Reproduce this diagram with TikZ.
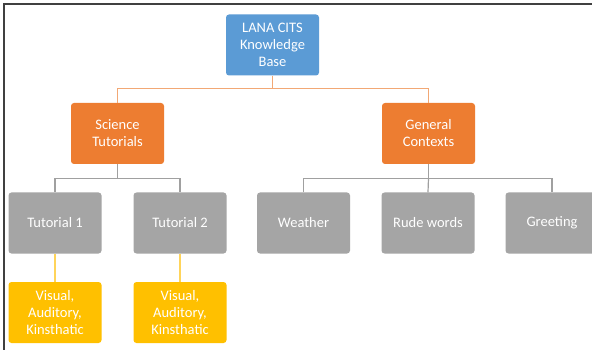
\documentclass[tikz,border=0pt]{standalone}
\usepackage{fontspec}
\setmainfont{Carlito}
\definecolor{cblue}{HTML}{5B9BD5}
\definecolor{corange}{HTML}{ED7D31}
\definecolor{cgray}{HTML}{A5A5A5}
\definecolor{cyellow}{HTML}{FFC000}
\definecolor{lorange}{HTML}{F2A875}
\definecolor{lgray}{HTML}{A0A0A0}
\definecolor{lyellow}{HTML}{FFD45A}
\definecolor{frame}{HTML}{404040}
\tikzset{
  box/.style={rounded corners=3pt, minimum width=93pt, minimum height=61pt,
    text=white, font=\fontsize{14.5}{17}\selectfont, align=center, inner sep=2pt},
  bluebox/.style={box, fill=cblue},
  orangebox/.style={box, fill=corange},
  graybox/.style={box, fill=cgray},
  yellowbox/.style={box, fill=cyellow},
  oline/.style={draw=lorange, line width=1.2pt},
  gline/.style={draw=lgray, line width=1.2pt},
  yline/.style={draw=lyellow, line width=1.2pt},
}
\begin{document}
\begin{tikzpicture}[x=1pt,y=-1pt]
\useasboundingbox (0,0) rectangle (592,350);
\fill[white] (0,0) rectangle (592,350);
\draw[frame, line width=1.8pt] (4,350) -- (4,4) -- (592,4);

\node[bluebox] (root) at (272.5,45) {LANA CITS\\Knowledge\\Base};
\node[orangebox] (sci) at (117.5,133.5) {Science\\Tutorials};
\node[orangebox] (gen) at (428.5,133.5) {General\\Contexts};

\node[graybox] (t1) at (55,223) {Tutorial 1};
\node[graybox] (t2) at (180,223) {Tutorial 2};
\node[graybox] (wea) at (303.5,223) {Weather};
\node[graybox] (rude) at (428,223) {Rude words};
\node[graybox] (greet) at (552,223) {Greeting};

\node[yellowbox] (v1) at (55,312.5) {Visual,\\Auditory,\\Kinsthatic};
\node[yellowbox] (v2) at (180,312.5) {Visual,\\Auditory,\\Kinsthatic};

\draw[oline] (root.south) -- ++(0,13) coordinate (rj) -| (sci.north);
\draw[oline] (rj) -| (gen.north);

\draw[gline] (sci.south) -- ++(0,14) coordinate (sj) -| (t1.north);
\draw[gline] (sj) -| (t2.north);

\draw[gline] (gen.south) -- ++(0,14) coordinate (gj) -| (wea.north);
\draw[gline] (gj) -- (rude.north);
\draw[gline] (gj) -| (greet.north);

\draw[yline] (t1.south) -- (v1.north);
\draw[yline] (t2.south) -- (v2.north);
\end{tikzpicture}
\end{document}
